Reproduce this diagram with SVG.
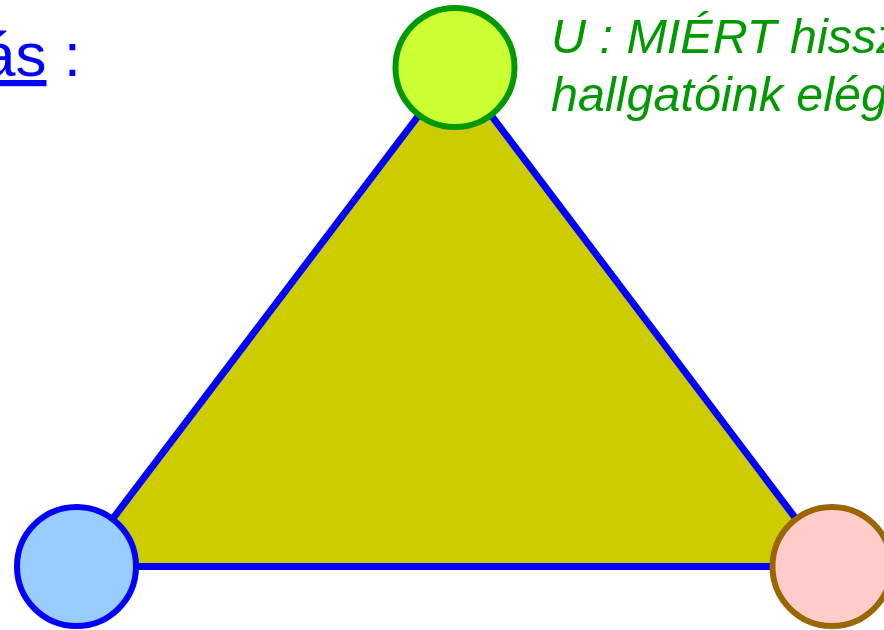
<svg xmlns="http://www.w3.org/2000/svg" width="884" height="630" viewBox="0 0 884 630">
  <style>
    .edge { stroke: #0000FF; stroke-width: 7; stroke-linecap: round; fill: none; }
    .node { stroke-width: 6; }
    .green { font-family: "Liberation Sans", Arial, sans-serif; font-style: italic; font-size: 48.5px; fill: #009900; }
    .blue { font-family: "Liberation Sans", Arial, sans-serif; font-size: 62px; fill: #0000FF; }
  </style>
  <rect width="884" height="630" fill="#FFFFFF"/>
  <g id="area">
    <polygon points="455,67.5 76.5,566.5 832,566.5" fill="#CCCC00"/>
  </g>
  <g id="connectors">
    <line class="edge" x1="455" y1="67.5" x2="76.5" y2="566.5"/>
    <line class="edge" x1="455" y1="67.5" x2="832" y2="566.5"/>
    <line class="edge" x1="76.5" y1="566.5" x2="832" y2="566.5"/>
  </g>
  <g id="node-top">
    <circle class="node" cx="455" cy="67.5" r="59.5" fill="#CCFF33" stroke="#009900"/>
  </g>
  <g id="node-left">
    <circle class="node" cx="76.5" cy="566.5" r="59.5" fill="#99CCFF" stroke="#0000FF"/>
  </g>
  <g id="node-right">
    <circle class="node" cx="832" cy="566.5" r="59.5" fill="#FFCCCC" stroke="#996600"/>
  </g>
  <g id="label-left">
    <text class="blue" x="-19" y="76"><tspan text-decoration="underline">ás</tspan> :</text>
  </g>
  <g id="label-right">
    <text class="green" x="551" y="53">U : MIÉRT hissz</text>
    <text class="green" x="551" y="111">hallgatóink elég</text>
  </g>
</svg>
